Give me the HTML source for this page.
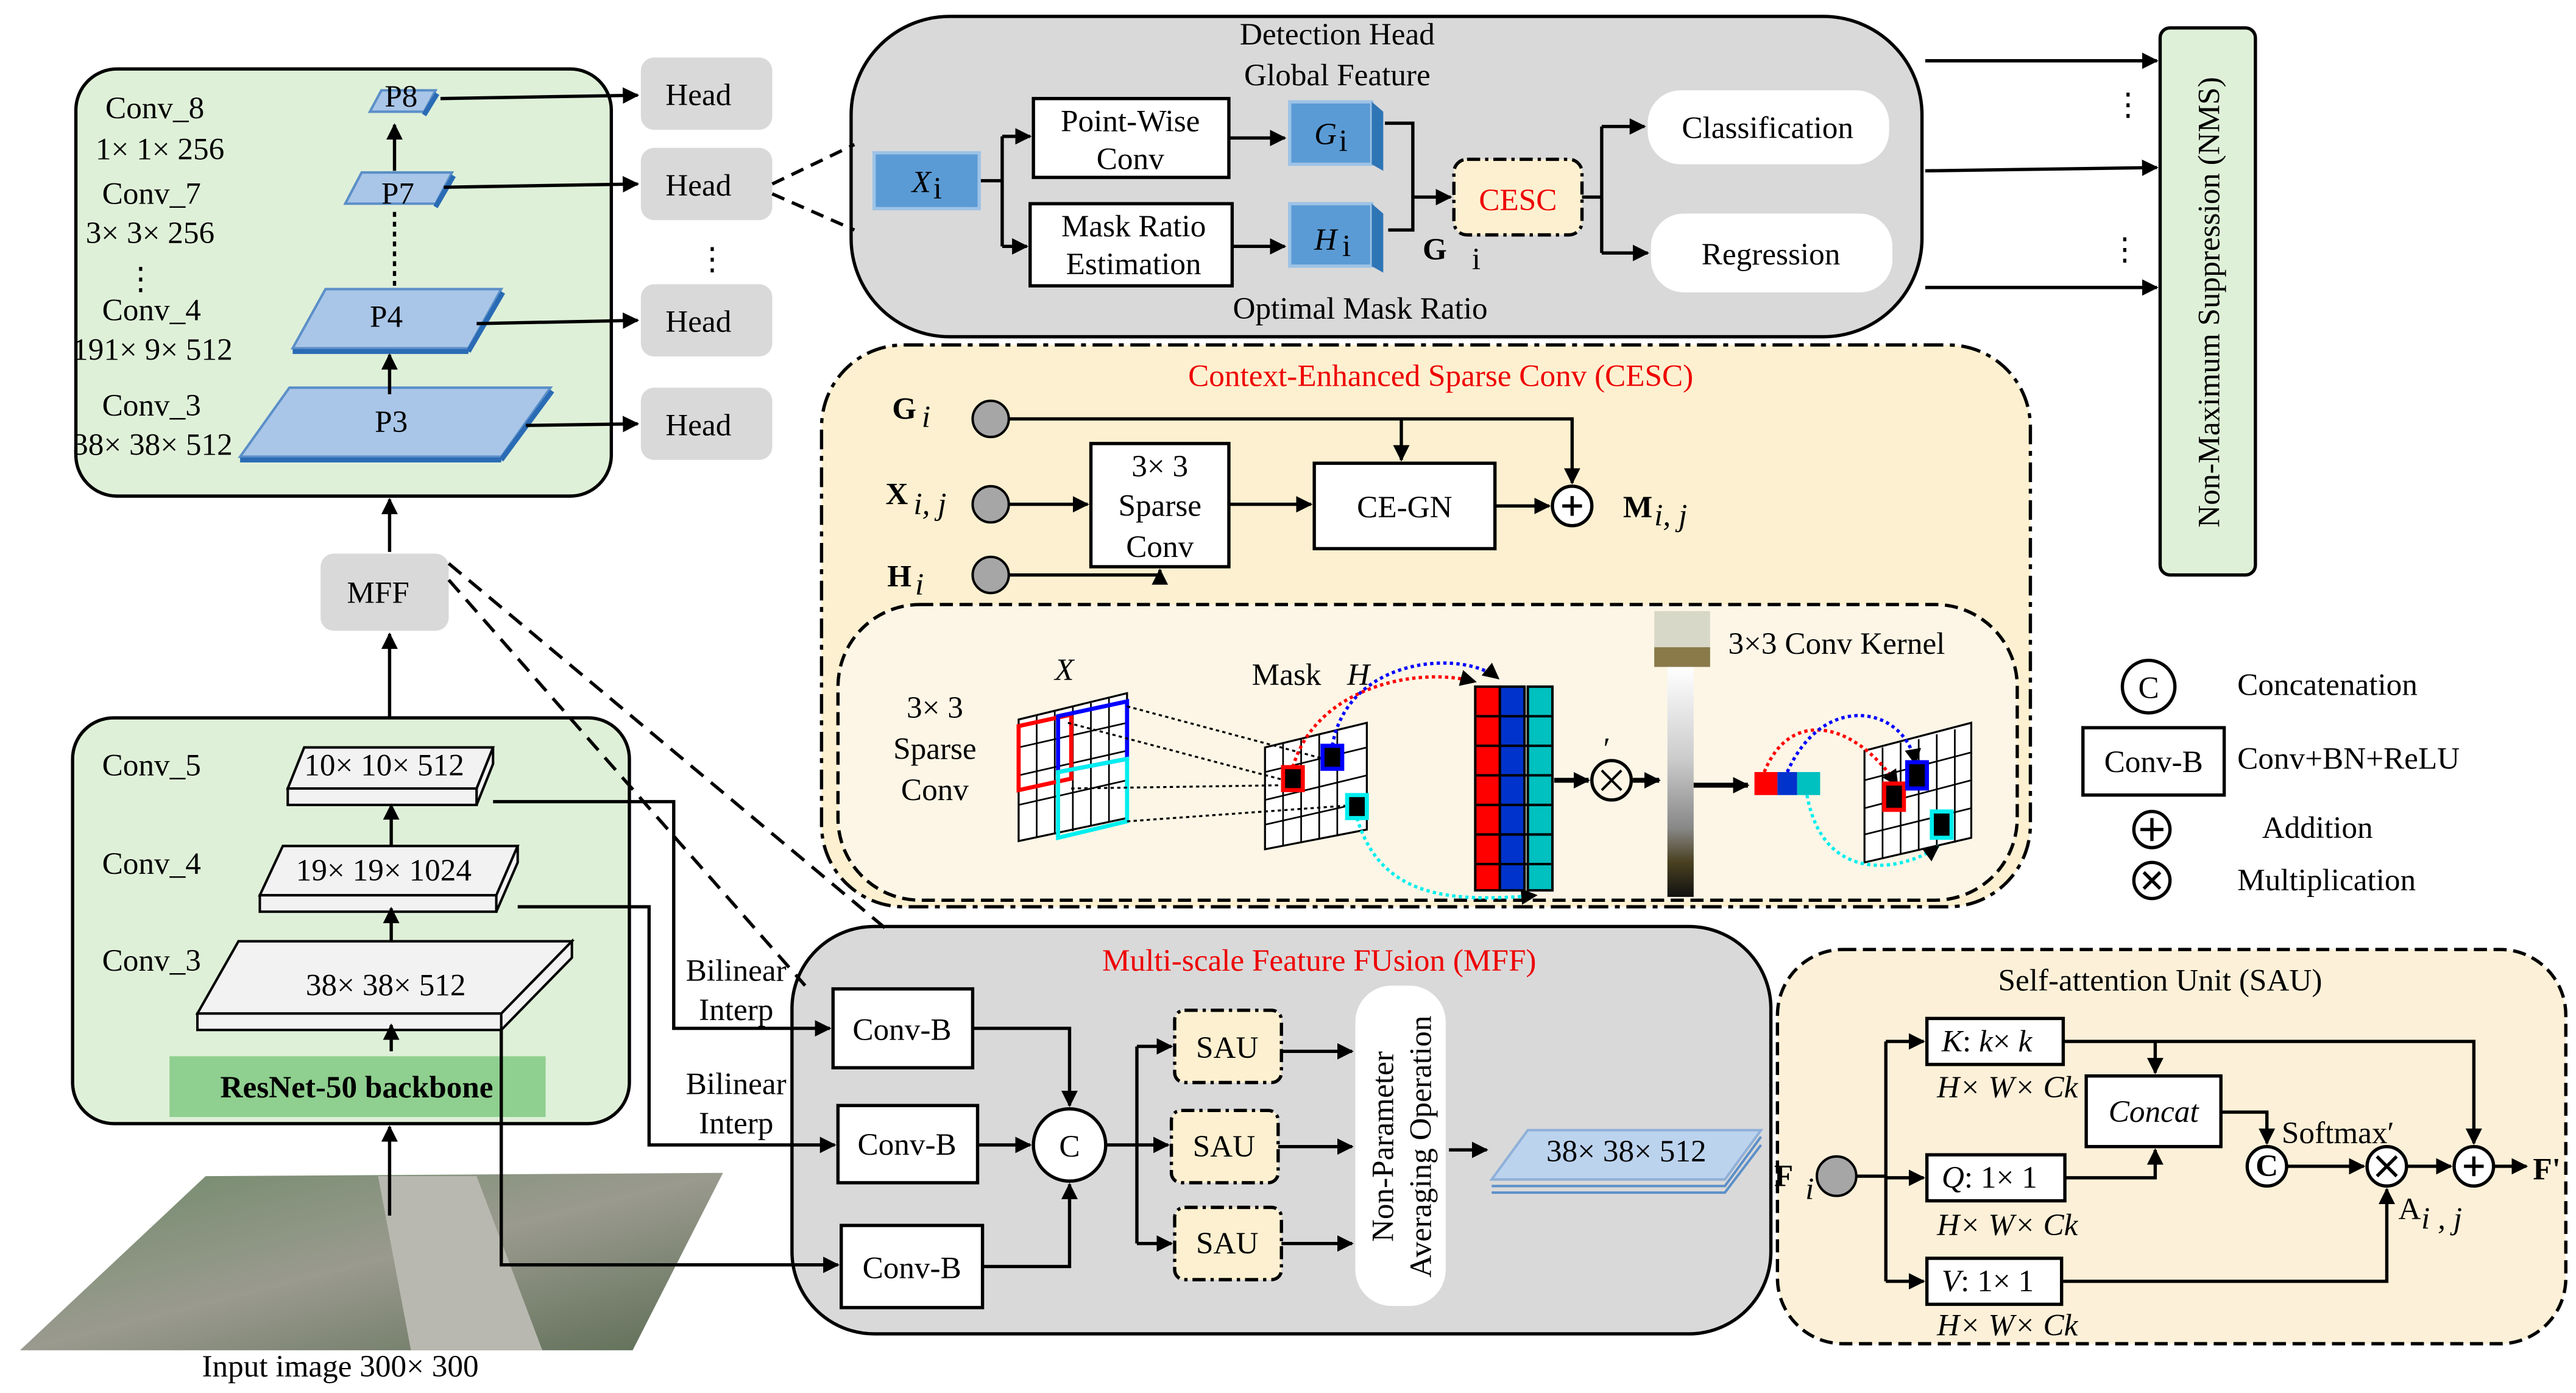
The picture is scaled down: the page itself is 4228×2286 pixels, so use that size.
<!DOCTYPE html>
<html><head><meta charset="utf-8"><style>
html,body{margin:0;padding:0;background:#fff;}
svg{display:block;}
text{font-family:"Liberation Serif",serif;font-size:19px;fill:#000;}
</style></head><body>
<svg width="4228" height="2286" viewBox="0 0 1568 848" xmlns="http://www.w3.org/2000/svg">
<defs>
<marker id="a" markerWidth="10" markerHeight="10" refX="9" refY="5" orient="auto" markerUnits="userSpaceOnUse"><path d="M0,0 L10,5 L0,10 Z" fill="#000"/></marker>
<linearGradient id="img" x1="0" y1="0" x2="1" y2="1"><stop offset="0" stop-color="#6f8a6a"/><stop offset="0.5" stop-color="#9a9a8e"/><stop offset="1" stop-color="#5d6d55"/></linearGradient>
<linearGradient id="ker" x1="0" y1="0" x2="0" y2="1"><stop offset="0" stop-color="#fff"/><stop offset="0.4" stop-color="#ccc"/><stop offset="0.7" stop-color="#888"/><stop offset="0.85" stop-color="#4a4020"/><stop offset="1" stop-color="#111"/></linearGradient>
</defs>
<g stroke="#000" stroke-width="2" fill="none">
<rect x="46" y="42" width="326" height="260" rx="25" fill="#dff0d8"/>
<rect x="44" y="437" width="339" height="247" rx="25" fill="#dff0d8"/>
<rect x="518" y="10" width="652" height="195" rx="60" fill="#d9d9d9"/>
<rect x="1315" y="17" width="58" height="333" rx="6" fill="#dff0d8"/>
<rect x="500" y="210" width="736" height="342" rx="50" fill="#fdf0d0" stroke-dasharray="12,4,3,4"/>
<rect x="510" y="368" width="718" height="180" rx="50" fill="#fdf6e6" stroke-dasharray="8,4"/>
<rect x="482" y="564" width="596" height="248" rx="50" fill="#d9d9d9"/>
<rect x="1082" y="578" width="480" height="240" rx="40" fill="#fdf0d8" stroke-dasharray="8,4"/>
</g>

<polygon points="12,822 125,716 440,714 385,822" fill="url(#img)"/>
<polygon points="230,716 290,716 330,822 250,822" fill="#b8b8b0"/>

<g stroke="#000" stroke-width="2" fill="none">
<g fill="#d9d9d9" stroke="none">
<rect x="390" y="35" width="80" height="44" rx="8"/><rect x="390" y="90" width="80" height="44" rx="8"/>
<rect x="390" y="173" width="80" height="44" rx="8"/><rect x="390" y="236" width="80" height="44" rx="8"/>
<rect x="195" y="337" width="78" height="47" rx="8"/>
</g>
<g fill="#a9c6e8" stroke="#5b8fc8" stroke-width="1.5">
<polygon points="232,55 265,55 258,68 225,68"/><polygon points="220,105 275,105 265,124 210,124"/>
<polygon points="198,176 305,176 285,212 178,212"/><polygon points="176,236 335,236 305,278 146,278"/>
</g>
<g stroke="#2a6bb5" stroke-width="3">
<line x1="258" y1="70" x2="266" y2="57"/><line x1="265" y1="126" x2="276" y2="107"/><line x1="285" y1="214" x2="306" y2="178"/><line x1="305" y1="280" x2="336" y2="238"/>
<line x1="146" y1="280" x2="305" y2="280"/><line x1="178" y1="214" x2="285" y2="214"/>
</g>
<line x1="268" y1="60" x2="388" y2="58" marker-end="url(#a)"/>
<line x1="270" y1="114" x2="388" y2="112" marker-end="url(#a)"/>
<line x1="290" y1="197" x2="388" y2="195" marker-end="url(#a)"/>
<line x1="320" y1="259" x2="388" y2="258" marker-end="url(#a)"/>
<line x1="237" y1="240" x2="237" y2="216" marker-end="url(#a)"/>
<line x1="240" y1="174" x2="240" y2="128" stroke-dasharray="3,3"/>
<line x1="240" y1="104" x2="240" y2="76" marker-end="url(#a)"/>
<line x1="237" y1="336" x2="237" y2="304" marker-end="url(#a)"/>
<line x1="237" y1="437" x2="237" y2="386" marker-end="url(#a)"/>
<line x1="237" y1="740" x2="237" y2="686" marker-end="url(#a)"/>
<line x1="470" y1="112" x2="520" y2="88" stroke-dasharray="8,5"/>
<line x1="470" y1="118" x2="520" y2="140" stroke-dasharray="8,5"/>
<line x1="273" y1="343" x2="540" y2="566" stroke-dasharray="10,6"/>
<line x1="273" y1="353" x2="490" y2="600" stroke-dasharray="10,6"/>

<g fill="#f2f2f2" stroke-width="1.5">
<polygon points="185,455 300,455 290,480 175,480"/><rect x="175" y="480" width="115" height="10"/><polygon points="290,480 300,455 300,465 290,490"/>
<polygon points="172,515 315,515 302,545 158,545"/><rect x="158" y="545" width="144" height="10"/><polygon points="302,545 315,515 315,525 302,555"/>
<polygon points="145,573 348,573 305,617 120,617"/><rect x="120" y="617" width="185" height="10"/><polygon points="305,617 348,573 348,583 305,627"/>
</g>
<rect x="103" y="643" width="229" height="37" fill="#8fcf8f" stroke="none"/>
<line x1="238" y1="640" x2="238" y2="624" marker-end="url(#a)"/>
<line x1="238" y1="573" x2="238" y2="553" marker-end="url(#a)"/>
<line x1="238" y1="515" x2="238" y2="490" marker-end="url(#a)"/>
<polyline points="300,488 410,488 410,626 505,626" marker-end="url(#a)"/>
<polyline points="315,552 395,552 395,697 508,697" marker-end="url(#a)"/>
<polyline points="305,627 305,770 510,770" marker-end="url(#a)"/>

<rect x="532" y="93" width="64" height="34" fill="#5b9bd5" stroke="#9dc3e6"/>
<rect x="629" y="60" width="119" height="48" fill="#fff"/>
<rect x="627" y="124" width="123" height="50" fill="#fff"/>
<g fill="#5b9bd5" stroke="#9dc3e6"><rect x="785" y="62" width="50" height="38"/><rect x="785" y="124" width="50" height="38"/></g>
<g fill="#2e75b6" stroke="none"><polygon points="835,62 842,68 842,104 835,100"/><polygon points="835,124 842,130 842,166 835,162"/></g>
<rect x="885" y="97" width="78" height="46" rx="8" fill="#fdf0d0" stroke-dasharray="8,3,2,3"/>
<rect x="1003" y="55" width="147" height="45" rx="20" fill="#fff" stroke="none"/>
<rect x="1005" y="130" width="147" height="48" rx="20" fill="#fff" stroke="none"/>
<line x1="597" y1="110" x2="610" y2="110"/>
<polyline points="610,83 610,150"/>
<line x1="610" y1="83" x2="627" y2="83" marker-end="url(#a)"/>
<line x1="610" y1="150" x2="625" y2="150" marker-end="url(#a)"/>
<line x1="748" y1="84" x2="782" y2="84" marker-end="url(#a)"/>
<line x1="750" y1="150" x2="782" y2="150" marker-end="url(#a)"/>
<polyline points="843,75 860,75 860,140 845,140"/>
<line x1="860" y1="120" x2="883" y2="120" marker-end="url(#a)"/>
<polyline points="963,120 975,120"/><polyline points="975,77 975,154"/>
<line x1="975" y1="77" x2="1001" y2="77" marker-end="url(#a)"/>
<line x1="975" y1="154" x2="1003" y2="154" marker-end="url(#a)"/>
<line x1="1172" y1="37" x2="1313" y2="37" marker-end="url(#a)"/>
<line x1="1172" y1="104" x2="1313" y2="102" marker-end="url(#a)"/>
<line x1="1172" y1="175" x2="1313" y2="175" marker-end="url(#a)"/>

<g fill="#a6a6a6" stroke-width="1.5"><circle cx="603" cy="255" r="11"/><circle cx="603" cy="307" r="11"/><circle cx="603" cy="350" r="11"/></g>
<rect x="664" y="270" width="84" height="75" fill="#fff"/>
<rect x="800" y="282" width="110" height="52" fill="#fff"/>
<circle cx="957" cy="308" r="12" fill="#fff"/>
<line x1="951" y1="308" x2="963" y2="308"/><line x1="957" y1="302" x2="957" y2="314"/>
<polyline points="614,255 957,255 957,294" marker-end="url(#a)"/>
<line x1="853" y1="255" x2="853" y2="280" marker-end="url(#a)"/>
<line x1="614" y1="307" x2="662" y2="307" marker-end="url(#a)"/>
<line x1="748" y1="307" x2="798" y2="307" marker-end="url(#a)"/>
<line x1="910" y1="308" x2="943" y2="308" marker-end="url(#a)"/>
<polyline points="614,350 706,350 706,347" /><line x1="706" y1="351" x2="706" y2="347" marker-end="url(#a)"/>

<g stroke-width="1.2" fill="#fff">
<polygon points="620,438 686,422 686,498 620,512"/>
<polygon points="770,455 832,440 832,505 770,517"/>
<polygon points="1135,457 1200,440 1200,510 1135,525"/>
</g>
<g stroke-width="1">
<path d="M631,435V510M642,433V508M653,430V506M664,428V503M675,425V500M620,455L686,440M620,472L686,457M620,490L686,475M781,452V515M792,450V513M803,447V511M814,445V509M770,470L832,455M770,487L832,472M770,502L832,488M1146,455V523M1157,452V520M1168,450V518M1179,447V515M1190,444V513M1135,475L1200,458M1135,492L1200,475M1135,508L1200,492"/>
</g>
<polygon points="620,442 652,435 652,474 620,481" stroke="#f00" stroke-width="2.5" fill="none"/>
<polygon points="644,436 686,427 686,462 644,470" stroke="#00f" stroke-width="2.5" fill="none"/>
<polygon points="644,470 686,462 686,500 644,510" stroke="#0ee" stroke-width="2.5" fill="none"/>
<g stroke-dasharray="2,2" stroke-width="1.2"><line x1="650" y1="440" x2="782" y2="475"/><line x1="686" y1="430" x2="806" y2="462"/><line x1="652" y1="480" x2="782" y2="478"/><line x1="686" y1="500" x2="826" y2="490"/></g>
<rect x="781" y="467" width="12" height="14" fill="#000" stroke="#f00" stroke-width="2.5"/>
<rect x="805" y="454" width="12" height="14" fill="#000" stroke="#00f" stroke-width="2.5"/>
<rect x="820" y="484" width="12" height="14" fill="#000" stroke="#0ee" stroke-width="2.5"/>
<path d="M787,467 C800,420 860,405 898,415" stroke="#f00" stroke-dasharray="2,2" marker-end="url(#a)"/>
<path d="M811,454 C820,400 890,395 912,413" stroke="#00f" stroke-dasharray="2,2" marker-end="url(#a)"/>
<path d="M826,498 C840,545 880,550 935,545" stroke="#0ee" stroke-dasharray="2,2" marker-end="url(#a)"/>
<rect x="898" y="418" width="15" height="124" fill="#f00" stroke-width="1.5"/>
<rect x="913" y="418" width="15" height="124" fill="#0033cc" stroke-width="1.5"/>
<rect x="930" y="418" width="15" height="124" fill="#00c0c0" stroke-width="1.5"/>
<path d="M898,436H945M898,454H945M898,472H945M898,490H945M898,508H945M898,526H945" stroke-width="1.5"/>
<circle cx="981" cy="475" r="12" fill="none"/>
<line x1="975" y1="469" x2="987" y2="481" stroke-width="1.5"/><line x1="987" y1="469" x2="975" y2="481" stroke-width="1.5"/>
<line x1="946" y1="475" x2="967" y2="475" marker-end="url(#a)" stroke-width="3"/>
<line x1="994" y1="475" x2="1010" y2="475" marker-end="url(#a)" stroke-width="3"/>
<rect x="1007" y="372" width="34" height="34" fill="#d8d8c8" stroke="none"/>
<rect x="1007" y="394" width="34" height="12" fill="#8a7a4a" stroke="none"/>
<rect x="1015" y="406" width="16" height="140" fill="url(#ker)" stroke="none"/>
<line x1="1031" y1="478" x2="1064" y2="478" marker-end="url(#a)" stroke-width="3"/>
<rect x="1068" y="470" width="14" height="14" fill="#f00" stroke="none"/><rect x="1082" y="470" width="12" height="14" fill="#0033cc" stroke="none"/><rect x="1094" y="470" width="14" height="14" fill="#00c0c0" stroke="none"/>
<path d="M1074,470 C1090,430 1130,440 1155,478" stroke="#f00" stroke-dasharray="2,2" marker-end="url(#a)"/>
<path d="M1088,470 C1110,420 1160,430 1166,465" stroke="#00f" stroke-dasharray="2,2" marker-end="url(#a)"/>
<path d="M1100,484 C1110,540 1160,530 1180,515" stroke="#0ee" stroke-dasharray="2,2" marker-end="url(#a)"/>
<rect x="1147" y="477" width="12" height="16" fill="#000" stroke="#f00" stroke-width="2.5"/>
<rect x="1161" y="464" width="12" height="16" fill="#000" stroke="#00f" stroke-width="2.5"/>
<rect x="1176" y="494" width="12" height="16" fill="#000" stroke="#0ee" stroke-width="2.5"/>

<circle cx="1308" cy="418" r="16" fill="#fff"/>
<rect x="1268" y="443" width="86" height="41" fill="#fff"/>
<circle cx="1310" cy="505" r="11" fill="#fff"/>
<line x1="1303" y1="505" x2="1317" y2="505"/><line x1="1310" y1="498" x2="1310" y2="512"/>
<circle cx="1310" cy="536" r="11" fill="#fff"/>
<line x1="1305" y1="531" x2="1315" y2="541"/><line x1="1315" y1="531" x2="1305" y2="541"/>

<g fill="#fff"><rect x="507" y="602" width="85" height="48"/><rect x="510" y="673" width="85" height="47"/><rect x="512" y="746" width="86" height="50"/></g>
<circle cx="651" cy="697" r="22" fill="#fff"/>
<polyline points="592,626 651,626 651,673" marker-end="url(#a)"/>
<line x1="595" y1="697" x2="627" y2="697" marker-end="url(#a)"/>
<polyline points="598,771 651,771 651,721" marker-end="url(#a)"/>
<line x1="673" y1="697" x2="692" y2="697"/><line x1="692" y1="637" x2="692" y2="757"/>
<line x1="692" y1="637" x2="713" y2="637" marker-end="url(#a)"/>
<line x1="692" y1="697" x2="711" y2="697" marker-end="url(#a)"/>
<line x1="692" y1="757" x2="713" y2="757" marker-end="url(#a)"/>
<g fill="#fdf0d0" stroke-dasharray="8,3,2,3"><rect x="715" y="615" width="65" height="44" rx="6"/><rect x="713" y="676" width="65" height="44" rx="6"/><rect x="715" y="735" width="65" height="44" rx="6"/></g>
<line x1="780" y1="640" x2="823" y2="640" marker-end="url(#a)"/>
<line x1="778" y1="698" x2="823" y2="698" marker-end="url(#a)"/>
<line x1="780" y1="757" x2="823" y2="757" marker-end="url(#a)"/>
<rect x="825" y="600" width="55" height="195" rx="22" fill="#fff" stroke="none"/>
<line x1="882" y1="700" x2="905" y2="700" marker-end="url(#a)"/>
<polygon points="930,688 1072,688 1050,718 908,718" fill="#bcd3ee" stroke="#8fb0d8" stroke-width="1.5"/>
<path d="M908,722H1050L1072,692M908,726H1050L1072,697" stroke="#5b8fc8" stroke-width="1.5"/>

<circle cx="1118" cy="716" r="12" fill="#a6a6a6" stroke-width="1.5"/>
<g fill="#fff"><rect x="1173" y="620" width="83" height="28"/><rect x="1173" y="703" width="84" height="28"/><rect x="1173" y="766" width="82" height="28"/><rect x="1270" y="655" width="82" height="43"/></g>
<line x1="1130" y1="716" x2="1148" y2="716"/><line x1="1148" y1="634" x2="1148" y2="780"/>
<line x1="1148" y1="634" x2="1171" y2="634" marker-end="url(#a)"/>
<line x1="1148" y1="717" x2="1171" y2="717" marker-end="url(#a)"/>
<line x1="1148" y1="780" x2="1171" y2="780" marker-end="url(#a)"/>
<polyline points="1256,634 1506,634 1506,696" marker-end="url(#a)"/>
<line x1="1312" y1="634" x2="1312" y2="653" marker-end="url(#a)"/>
<polyline points="1257,717 1312,717 1312,700" marker-end="url(#a)"/>
<polyline points="1352,677 1380,677 1380,696" marker-end="url(#a)"/>
<circle cx="1380" cy="710" r="12" fill="#fff"/>
<line x1="1392" y1="710" x2="1439" y2="710" marker-end="url(#a)"/>
<circle cx="1453" cy="710" r="12" fill="#fff"/>
<line x1="1447" y1="704" x2="1459" y2="716"/><line x1="1459" y1="704" x2="1447" y2="716"/>
<line x1="1465" y1="710" x2="1492" y2="710" marker-end="url(#a)"/>
<circle cx="1506" cy="710" r="12" fill="#fff"/>
<line x1="1500" y1="710" x2="1512" y2="710"/><line x1="1506" y1="704" x2="1506" y2="716"/>
<line x1="1518" y1="710" x2="1538" y2="710" marker-end="url(#a)"/>
<polyline points="1255,780 1453,780 1453,724" marker-end="url(#a)"/>
</g>

<g>
<text x="64" y="72">Conv_8</text><text x="58" y="97">1× 1× 256</text>
<text x="62" y="124">Conv_7</text><text x="52" y="148">3× 3× 256</text>
<text x="76" y="176">⋮</text>
<text x="62" y="195">Conv_4</text><text x="44" y="219">191× 9× 512</text>
<text x="62" y="253">Conv_3</text><text x="44" y="277">38× 38× 512</text>
<text x="234" y="65" font-size="15">P8</text><text x="232" y="124">P7</text><text x="225" y="199">P4</text><text x="228" y="263">P3</text>
<text x="405" y="64">Head</text><text x="405" y="119">Head</text><text x="405" y="202">Head</text><text x="405" y="265">Head</text>
<text x="424" y="164">⋮</text>
<text x="211" y="367" font-size="20">MFF</text>
<text x="62" y="472">Conv_5</text><text x="62" y="532">Conv_4</text><text x="62" y="591">Conv_3</text>
<text x="185" y="472" font-size="18">10× 10× 512</text>
<text x="180" y="536" font-size="18">19× 19× 1024</text>
<text x="186" y="606" font-size="18">38× 38× 512</text>
<text x="217" y="668" font-weight="bold" font-size="18" text-anchor="middle">ResNet-50 backbone</text>
<text x="207" y="838" text-anchor="middle" font-size="18">Input image  300× 300</text>
<text x="448" y="597" text-anchor="middle" font-size="18">Bilinear</text><text x="448" y="621" text-anchor="middle" font-size="18">Interp</text>
<text x="448" y="666" text-anchor="middle" font-size="18">Bilinear</text><text x="448" y="690" text-anchor="middle" font-size="18">Interp</text>

<text x="814" y="27" text-anchor="middle">Detection Head</text>
<text x="814" y="52" text-anchor="middle" font-size="18">Global Feature</text>
<text x="828" y="194" text-anchor="middle" font-size="18">Optimal Mask Ratio</text>
<text x="555" y="117" font-style="italic" font-size="20">X</text><text x="568" y="121" font-size="12">i</text>
<text x="688" y="80" text-anchor="middle" font-size="18">Point-Wise</text><text x="688" y="103" text-anchor="middle" font-size="18">Conv</text>
<text x="690" y="144" text-anchor="middle" font-size="18">Mask Ratio</text><text x="690" y="167" text-anchor="middle" font-size="18">Estimation</text>
<text x="800" y="88" font-style="italic" font-size="20">G</text><text x="815" y="92" font-size="12">i</text>
<text x="800" y="152" font-style="italic" font-size="20">H</text><text x="817" y="156" font-size="12">i</text>
<text x="924" y="128" text-anchor="middle" style="fill:#e00">CESC</text>
<text x="866" y="158" font-weight="bold" font-size="20">G</text><text x="896" y="164" font-size="14">i</text>
<text x="1076" y="84" text-anchor="middle">Classification</text>
<text x="1078" y="161" text-anchor="middle">Regression</text>
<text x="1286" y="70">⋮</text><text x="1284" y="158">⋮</text>
<text transform="translate(1351,184) rotate(-90)" text-anchor="middle" font-size="18">Non-Maximum Suppression (NMS)</text>

<text x="877" y="235" text-anchor="middle" style="fill:#e00">Context-Enhanced Sparse Conv (CESC)</text>
<text x="543" y="255" font-weight="bold">G</text><text x="561" y="260" font-size="13" font-style="italic">i</text>
<text x="539" y="307" font-weight="bold">X</text><text x="556" y="313" font-size="13" font-style="italic">i, j</text>
<text x="540" y="357" font-weight="bold">H</text><text x="557" y="362" font-size="13" font-style="italic">i</text>
<text x="706" y="290" text-anchor="middle" font-size="18">3× 3</text><text x="706" y="314" text-anchor="middle" font-size="18">Sparse</text><text x="706" y="339" text-anchor="middle" font-size="18">Conv</text>
<text x="855" y="315" text-anchor="middle">CE-GN</text>
<text x="988" y="315" font-weight="bold">M</text><text x="1007" y="320" font-size="13" font-style="italic">i, j</text>
<text x="569" y="437" text-anchor="middle" font-size="18">3× 3</text><text x="569" y="462" text-anchor="middle" font-size="18">Sparse</text><text x="569" y="487" text-anchor="middle" font-size="18">Conv</text>
<text x="642" y="414" font-style="italic">X</text>
<text x="762" y="417" font-size="18">Mask</text><text x="820" y="417" font-style="italic">H</text>
<text x="976" y="462" font-size="14">′</text>
<text x="1052" y="398" font-size="18">3×3 Conv  Kernel</text>

<text x="1308" y="425" text-anchor="middle" font-size="18">C</text>
<text x="1362" y="423" font-size="18">Concatenation</text>
<text x="1311" y="470" text-anchor="middle" font-size="18">Conv-B</text>
<text x="1362" y="468" font-size="18">Conv+BN+ReLU</text>
<text x="1377" y="510" font-size="18">Addition</text>
<text x="1362" y="542" font-size="18">Multiplication</text>

<text x="803" y="591" text-anchor="middle" style="fill:#e00">Multi-scale Feature FUsion (MFF)</text>
<text x="549" y="633" text-anchor="middle">Conv-B</text>
<text x="552" y="703" text-anchor="middle">Conv-B</text>
<text x="555" y="778" text-anchor="middle">Conv-B</text>
<text x="651" y="704" text-anchor="middle" font-size="20">C</text>
<text x="747" y="644" text-anchor="middle">SAU</text><text x="745" y="704" text-anchor="middle">SAU</text><text x="747" y="763" text-anchor="middle">SAU</text>
<text transform="translate(848,698) rotate(-90)" text-anchor="middle" font-size="18">Non-Parameter</text>
<text transform="translate(871,698) rotate(-90)" text-anchor="middle" font-size="18">Averaging Operation</text>
<text x="990" y="707" text-anchor="middle" font-size="18">38× 38× 512</text>

<text x="1315" y="603" text-anchor="middle">Self-attention Unit (SAU)</text>
<text x="1080" y="722" font-weight="bold">F</text><text x="1099" y="730" font-size="13" font-style="italic">i</text>
<text x="1182" y="640" font-size="18"><tspan font-style="italic">K</tspan>: <tspan font-style="italic">k</tspan>× <tspan font-style="italic">k</tspan></text>
<text x="1182" y="723" font-size="18"><tspan font-style="italic">Q</tspan>: 1× 1</text>
<text x="1182" y="786" font-size="18"><tspan font-style="italic">V</tspan>: 1× 1</text>
<text x="1222" y="668" text-anchor="middle" font-size="16" font-style="italic">H× W× Ck</text>
<text x="1222" y="752" text-anchor="middle" font-size="16" font-style="italic">H× W× Ck</text>
<text x="1222" y="813" text-anchor="middle" font-size="16" font-style="italic">H× W× Ck</text>
<text x="1311" y="683" text-anchor="middle" font-style="italic" font-size="20">Concat</text>
<text x="1389" y="696" font-size="15">Softmax′</text>
<text x="1380" y="716" text-anchor="middle" font-size="15" font-weight="bold">C</text>
<text x="1460" y="742" font-size="18">A</text><text x="1474" y="748" font-size="13" font-style="italic">i , j</text>
<text x="1542" y="718" font-weight="bold">F'</text>
</g>
</svg>
</body></html>
